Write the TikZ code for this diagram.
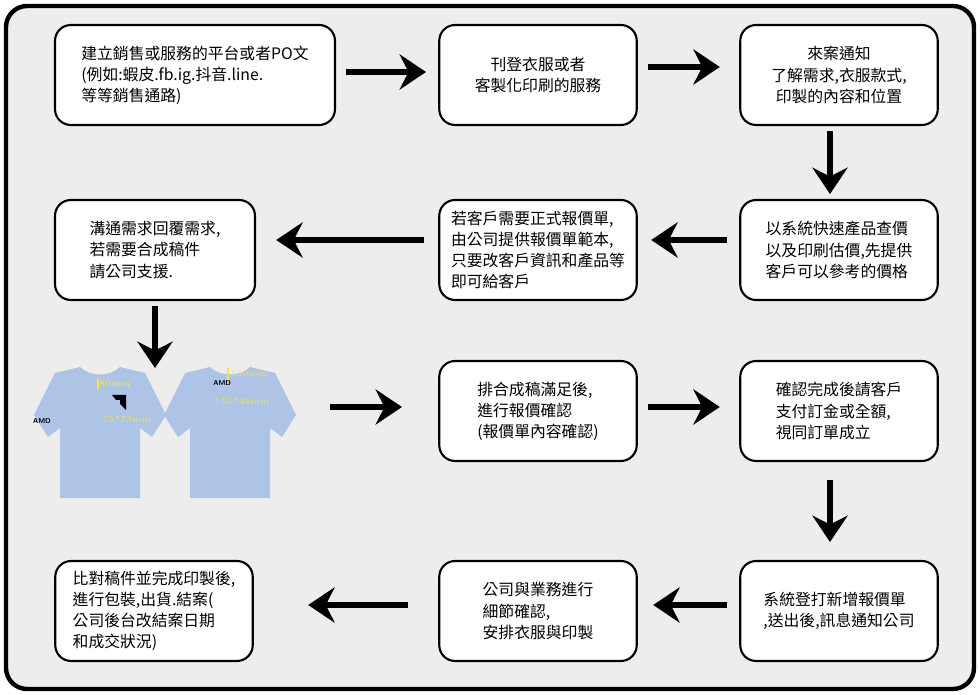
\documentclass[tikz,border=0pt]{standalone}
\usepackage{fontspec}
\newfontfamily\cjk{Noto Sans CJK TC}
\usetikzlibrary{arrows.meta,positioning}
\definecolor{panelgray}{HTML}{EDEDEB}
\definecolor{shirtblue}{HTML}{AEC4E6}
\definecolor{marky}{HTML}{F2E93A}
\tikzset{
	stepbox/.style={draw=black, line width=1.2pt, fill=white, rounded corners=9pt,
		minimum height=2cm, align=center, font=\cjk\fontsize{9}{12}\selectfont},
	flow/.style={line width=3pt, -{Stealth[length=15pt,width=20pt,inset=5pt]}},
	sizetag/.style={text=marky, font=\fontsize{5}{5}\selectfont, inner sep=0pt}
}
\begin{document}
\begin{tikzpicture}[x=0.02cm, y=-0.02cm]
\useasboundingbox (0,0) rectangle (980,695);
\fill[panelgray, draw=black, line width=2.5pt, rounded corners=12pt] (6,6) rectangle (974,689);

% row 1
\node[stepbox, minimum width=5.6cm, align=left] (post) at (195,75)
	{建立銷售或服務的平台或者PO文\\(例如:蝦皮.fb.ig.抖音.line.\\等等銷售通路)};
\node[stepbox, minimum width=3.95cm] (offer) at (538,75) {刊登衣服或者\\客製化印刷的服務};
\node[stepbox, minimum width=3.95cm] (inquiry) at (839,75) {來案通知\\了解需求,衣服款式,\\印製的內容和位置};
% row 2
\node[stepbox, minimum width=4cm, align=left] (reply) at (155,250) {溝通需求回覆需求,\\若需要合成稿件\\請公司支援.};
\node[stepbox, minimum width=3.95cm, align=left] (quote) at (538,250)
	{若客戶需要正式報價單,\\由公司提供報價單範本,\\只要改客戶資訊和產品等\\即可給客戶};
\node[stepbox, minimum width=3.95cm, align=left] (estimate) at (839,250)
	{以系統快速產品查價\\以及印刷估價,先提供\\客戶可以參考的價格};
% row 3
\node[stepbox, minimum width=3.95cm, align=left] (confirm) at (538,411) {排合成稿滿足後,\\進行報價確認\\(報價單內容確認)};
\node[stepbox, minimum width=3.95cm, align=left] (pay) at (839,411) {確認完成後請客戶\\支付訂金或全額,\\視同訂單成立};
% row 4
\node[stepbox, minimum width=3.95cm, align=left] (ship) at (154,611)
	{比對稿件並完成印製後,\\進行包裝,出貨.結案(\\公司後台改結案日期\\和成交狀況)};
\node[stepbox, minimum width=3.95cm, align=left] (detail) at (538,611) {公司與業務進行\\細節確認,\\安排衣服與印製};
\node[stepbox, minimum width=3.95cm, align=left] (order) at (839,611) {系統登打新增報價單\\,送出後,訊息通知公司};

% shirts
\foreach \sx/\nm in {100/front,230/back}{
	\fill[shirtblue] (\sx-20,367) -- (\sx-45,373) -- (\sx-66,415) -- (\sx-52,437)
		-- (\sx-40,428) -- (\sx-40,498) -- (\sx+40,498) -- (\sx+40,428)
		-- (\sx+52,437) -- (\sx+66,415) -- (\sx+45,373) -- (\sx+20,367)
		.. controls (\sx+10,377) and (\sx-10,377) .. cycle;
	\coordinate (\nm) at (\sx,430);
}
\fill[marky] (97,378) rectangle (98.5,390);
\node[sizetag, anchor=west] (frontgap) at (99,384) {80mm};
\fill[black] (112,395) -- (126,395) -- (126,410) -- (120,404) -- (120,400) -- (116,400) -- cycle;
\node[sizetag, anchor=west] (frontsize) at (102,419) {75*75mm};
\node[font=\sffamily\bfseries\fontsize{4}{4}\selectfont, inner sep=0pt] (sleeve) at (42,421) {AMD};
\fill[marky] (227,368) rectangle (228.5,381);
\node[sizetag, anchor=west] (backgap) at (230,374) {100mm};
\node[font=\sffamily\bfseries\fontsize{4}{4}\selectfont, inner sep=0pt, anchor=west] (backlogo) at (213,383) {AMD};
\node[sizetag, anchor=west] (backsize) at (214,401) {155*44mm};

% connectors
\draw[flow] (post.east) ++(10,-3) -- ++(80,0);
\draw[flow] (offer.east) ++(10,-8) -- ++(72,0);
\draw[flow] (inquiry.south) ++(-9,5) -- ++(0,63);
\draw[flow] (estimate.west) ++(-12,-10) -- ++(-76,0);
\draw[flow] (quote.west) ++(-14,-10) -- ++(-148,0);
\draw[flow] (reply.south) ++(0,5) -- ++(0,62);
\draw[flow] (back) ++(100,-23) -- ++(72,0);
\draw[flow] (confirm.east) ++(10,-4) -- ++(72,0);
\draw[flow] (pay.south) ++(-9,18) -- ++(0,62);
\draw[flow] (order.west) ++(-12,-6) -- ++(-74,0);
\draw[flow] (detail.west) ++(-30,-6) -- ++(-100,0);
\end{tikzpicture}
\end{document}
